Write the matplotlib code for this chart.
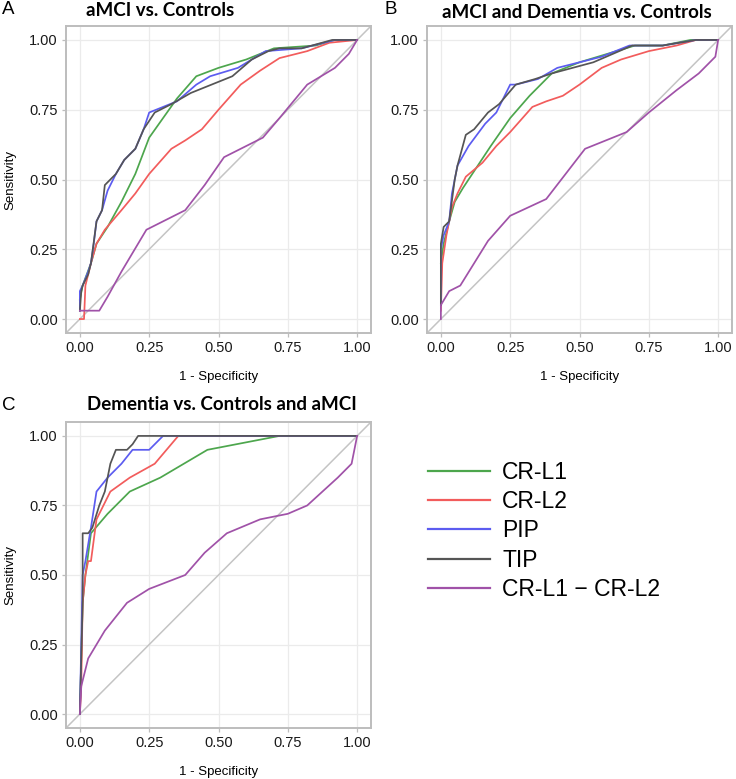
import matplotlib
matplotlib.use('Agg')
import matplotlib.pyplot as plt
from matplotlib.lines import Line2D

# ---- data (1 - specificity, sensitivity) ----
series_names = ['CR-L1', 'CR-L2', 'PIP', 'TIP', 'CR-L1 \u2212 CR-L2']
series_colors = ['#4DA64D', '#F25C5C', '#5C5CF0', '#555555', '#A052A8']

# panel A: aMCI vs. Controls
a_crl1_x = [0, 0.01, 0.04, 0.06, 0.10, 0.15, 0.20, 0.25, 0.30, 0.35, 0.42, 0.50, 0.60, 0.65, 0.70, 0.85, 0.92, 1]
a_crl1_y = [0.07, 0.12, 0.20, 0.27, 0.33, 0.42, 0.52, 0.65, 0.72, 0.79, 0.87, 0.90, 0.93, 0.95, 0.97, 0.98, 1.0, 1]
a_crl2_x = [0, 0.015, 0.02, 0.04, 0.06, 0.09, 0.15, 0.20, 0.25, 0.33, 0.38, 0.44, 0.50, 0.58, 0.65, 0.72, 0.82, 0.90, 1]
a_crl2_y = [0, 0, 0.12, 0.20, 0.27, 0.32, 0.39, 0.45, 0.52, 0.61, 0.64, 0.68, 0.75, 0.84, 0.89, 0.935, 0.96, 0.99, 1]
a_pip_x = [0, 0, 0.01, 0.03, 0.04, 0.05, 0.06, 0.08, 0.10, 0.13, 0.16, 0.20, 0.23, 0.25, 0.30, 0.35, 0.42, 0.47, 0.57, 0.62, 0.67, 0.80, 0.92, 1]
a_pip_y = [0.03, 0.10, 0.12, 0.17, 0.20, 0.27, 0.35, 0.39, 0.46, 0.52, 0.57, 0.61, 0.68, 0.74, 0.76, 0.78, 0.84, 0.87, 0.90, 0.93, 0.96, 0.97, 1.0, 1]
a_tip_x = [0, 0.005, 0.01, 0.03, 0.04, 0.06, 0.08, 0.09, 0.13, 0.16, 0.20, 0.23, 0.27, 0.33, 0.40, 0.55, 0.62, 0.68, 0.72, 0.80, 0.91, 1]
a_tip_y = [0.03, 0.10, 0.12, 0.16, 0.20, 0.35, 0.39, 0.48, 0.52, 0.57, 0.61, 0.68, 0.74, 0.77, 0.81, 0.87, 0.93, 0.96, 0.97, 0.97, 1.0, 1]
a_diff_x = [0, 0.07, 0.10, 0.15, 0.24, 0.30, 0.38, 0.45, 0.52, 0.60, 0.66, 0.72, 0.82, 0.92, 0.97, 1]
a_diff_y = [0.03, 0.03, 0.08, 0.17, 0.32, 0.35, 0.39, 0.48, 0.58, 0.62, 0.65, 0.72, 0.84, 0.90, 0.95, 1]

# panel B: aMCI and Dementia vs. Controls
b_crl1_x = [0, 0.01, 0.03, 0.05, 0.08, 0.12, 0.18, 0.25, 0.32, 0.40, 0.50, 0.60, 0.70, 0.80, 0.90, 1]
b_crl1_y = [0.20, 0.27, 0.35, 0.42, 0.47, 0.53, 0.62, 0.72, 0.80, 0.88, 0.92, 0.95, 0.98, 0.98, 1.0, 1]
b_crl2_x = [0, 0.005, 0.02, 0.04, 0.06, 0.09, 0.15, 0.20, 0.25, 0.33, 0.38, 0.44, 0.50, 0.58, 0.65, 0.75, 0.85, 0.92, 1]
b_crl2_y = [0.03, 0.20, 0.30, 0.40, 0.45, 0.51, 0.56, 0.62, 0.67, 0.76, 0.78, 0.80, 0.84, 0.90, 0.93, 0.96, 0.98, 1.0, 1]
b_pip_x = [0, 0, 0.01, 0.03, 0.04, 0.06, 0.10, 0.13, 0.16, 0.20, 0.22, 0.25, 0.27, 0.35, 0.42, 0.50, 0.58, 0.68, 0.80, 0.92, 1]
b_pip_y = [0.05, 0.25, 0.30, 0.35, 0.45, 0.55, 0.62, 0.66, 0.70, 0.74, 0.78, 0.84, 0.84, 0.86, 0.90, 0.92, 0.94, 0.98, 0.98, 1.0, 1]
b_tip_x = [0, 0, 0.01, 0.03, 0.05, 0.06, 0.09, 0.12, 0.17, 0.21, 0.27, 0.34, 0.40, 0.55, 0.62, 0.69, 0.80, 0.92, 1]
b_tip_y = [0.05, 0.27, 0.33, 0.35, 0.50, 0.55, 0.66, 0.68, 0.74, 0.77, 0.84, 0.86, 0.88, 0.92, 0.95, 0.98, 0.98, 1.0, 1]
b_diff_x = [0, 0, 0.03, 0.07, 0.12, 0.17, 0.25, 0.38, 0.45, 0.52, 0.67, 0.75, 0.85, 0.93, 0.99, 1]
b_diff_y = [0, 0.05, 0.10, 0.12, 0.20, 0.28, 0.37, 0.43, 0.52, 0.61, 0.67, 0.74, 0.82, 0.88, 0.94, 1]

# panel C: Dementia vs. Controls and aMCI
c_crl1_x = [0, 0.01, 0.02, 0.04, 0.10, 0.18, 0.29, 0.46, 0.72, 1]
c_crl1_y = [0, 0.40, 0.50, 0.65, 0.72, 0.80, 0.85, 0.95, 1.0, 1]
c_crl2_x = [0, 0.005, 0.01, 0.02, 0.03, 0.04, 0.06, 0.11, 0.18, 0.27, 0.355, 1]
c_crl2_y = [0, 0.10, 0.40, 0.50, 0.55, 0.55, 0.70, 0.80, 0.85, 0.90, 1.0, 1]
c_pip_x = [0, 0.01, 0.02, 0.04, 0.06, 0.10, 0.15, 0.19, 0.25, 0.30, 1]
c_pip_y = [0, 0.50, 0.55, 0.67, 0.80, 0.85, 0.90, 0.95, 0.95, 1.0, 1]
c_tip_x = [0, 0.01, 0.01, 0.03, 0.045, 0.07, 0.09, 0.11, 0.13, 0.17, 0.19, 0.21, 1]
c_tip_y = [0, 0.40, 0.65, 0.65, 0.67, 0.75, 0.80, 0.90, 0.95, 0.95, 0.97, 1.0, 1]
c_diff_x = [0, 0.005, 0.03, 0.09, 0.17, 0.25, 0.38, 0.45, 0.53, 0.65, 0.75, 0.82, 0.93, 0.98, 1]
c_diff_y = [0, 0.10, 0.20, 0.30, 0.40, 0.45, 0.50, 0.58, 0.65, 0.70, 0.72, 0.75, 0.85, 0.90, 1]

panel_titles = ['aMCI vs. Controls', 'aMCI and Dementia vs. Controls', 'Dementia vs. Controls and aMCI']
panel_letters = ['A', 'B', 'C']
tick_vals = [0.0, 0.25, 0.5, 0.75, 1.0]
tick_labels = ['0.00', '0.25', '0.50', '0.75', '1.00']

panels = [
    [(a_crl1_x, a_crl1_y), (a_crl2_x, a_crl2_y), (a_pip_x, a_pip_y), (a_tip_x, a_tip_y), (a_diff_x, a_diff_y)],
    [(b_crl1_x, b_crl1_y), (b_crl2_x, b_crl2_y), (b_pip_x, b_pip_y), (b_tip_x, b_tip_y), (b_diff_x, b_diff_y)],
    [(c_crl1_x, c_crl1_y), (c_crl2_x, c_crl2_y), (c_pip_x, c_pip_y), (c_tip_x, c_tip_y), (c_diff_x, c_diff_y)],
]

# ---- layout (pixels) ----
W, H = 736, 779
fig = plt.figure(figsize=(W / 100, H / 100), dpi=100)
fig.patch.set_facecolor('white')

# left, top, right, bottom of each plot box in pixels
boxes = [(66, 26, 371, 333), (427, 26, 732, 333), (66, 422, 371, 728)]
title_pos = [(160, 10), (577, 12), (222, 405)]
letter_pos = [(2, 10), (385, 10), (2, 406)]

frame_col = '#BDBDBD'
grid_col = '#EBEBEB'

for i, (l, t, r, b) in enumerate(boxes):
    ax = fig.add_axes([l / W, 1 - b / H, (r - l) / W, (b - t) / H])
    ax.set_xlim(-0.05, 1.05)
    ax.set_ylim(-0.05, 1.05)
    ax.set_xticks(tick_vals)
    ax.set_yticks(tick_vals)
    ax.set_xticklabels(tick_labels)
    ax.set_yticklabels(tick_labels)
    ax.grid(True, color=grid_col, linewidth=0.9)
    ax.set_axisbelow(True)
    for sp in ax.spines.values():
        sp.set_color(frame_col)
        sp.set_linewidth(1.4)
    ax.tick_params(colors=frame_col, length=3, width=0.9, labelsize=10.5,
                   labelcolor='#1A1A1A', pad=3)
    for lab in ax.get_xticklabels() + ax.get_yticklabels():
        lab.set_fontfamily('Liberation Sans')

    ax.axline((0, 0), slope=1, color='#C4C4C4', linewidth=1.1, zorder=1)
    for (xs, ys), col in zip(panels[i], series_colors):
        ax.plot(xs, ys, color=col, linewidth=1.25, zorder=2)

    ax.set_xlabel('1 - Specificity', fontsize=9.5, family='Liberation Sans', labelpad=11)
    if i != 1:
        ax.set_ylabel('Sensitivity', fontsize=9.5, family='Liberation Sans', labelpad=9)

    tx, ty = title_pos[i]
    fig.text(tx / W, 1 - ty / H, panel_titles[i], ha='center', va='center',
             fontsize=13.5, fontweight='bold', family='Lato')
    lx, ly = letter_pos[i]
    fig.text(lx / W, 1 - ly / H, panel_letters[i], ha='left', va='center',
             fontsize=13.5, family='Liberation Sans')

handles = [Line2D([], [], color=c, linewidth=1.6) for c in series_colors]
fig.legend(handles, series_names, loc='upper left',
           bbox_to_anchor=(407 / W, 1 - 440 / H), frameon=False,
           prop={'family': 'Liberation Sans', 'size': 16.5},
           handlelength=2.7, handletextpad=0.55, labelspacing=0.28)

fig.savefig('out.png', dpi=100)
